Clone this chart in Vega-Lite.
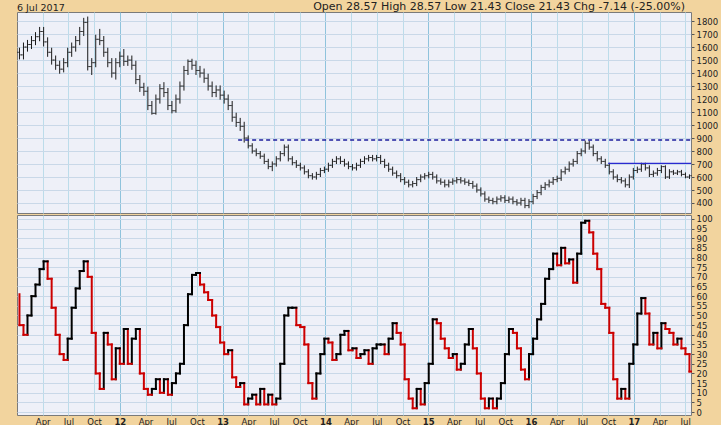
{
"$schema": "https://vega.github.io/schema/vega-lite/v6.json",
"background": "#F2D49E",
"padding": {"left": 16, "top": 0, "right": 2, "bottom": 0},
"spacing": 0,
"config": {
 "view": {"fill": "#EEF0F8", "stroke": "#7a7a7a", "strokeWidth": 1},
 "font": "DejaVu Sans",
 "axis": {"domain": false, "labelFont": "DejaVu Sans", "labelFontSize": 8.5, "labelColor": "#222222", "tickColor": "#555555", "tickSize": 3, "labelPadding": 2, "title": null, "gridWidth": 1, "labelOverlap": false, "labelSeparation": 0, "labelBound": false}
},
"title": {"text": "6 Jul 2017", "anchor": "start", "frame": "group", "fontSize": 9.5, "fontWeight": "normal", "color": "#222222", "offset": -12, "font": "DejaVu Sans"},
"datasets": {
"levels": [{"a": 2013.151, "b": 2017.556, "y": 885, "s": "dash"}, {"a": 2016.751, "b": 2017.556, "y": 705, "s": "solid"}],
"price": [
{"t":2011.024,"o":1560,"c":1540,"l":1505,"h":1595},{"t":2011.063,"o":1540,"c":1600,"l":1505,"h":1635},{"t":2011.102,"o":1600,"c":1620,"l":1565,"h":1655},{"t":2011.141,"o":1620,"c":1650,"l":1585,"h":1685},{"t":2011.180,"o":1650,"c":1680,"l":1615,"h":1715},{"t":2011.220,"o":1680,"c":1720,"l":1645,"h":1755},{"t":2011.259,"o":1720,"c":1640,"l":1605,"h":1755},{"t":2011.298,"o":1640,"c":1560,"l":1525,"h":1675},{"t":2011.337,"o":1560,"c":1500,"l":1465,"h":1595},{"t":2011.376,"o":1500,"c":1460,"l":1425,"h":1535},{"t":2011.415,"o":1460,"c":1430,"l":1395,"h":1495},{"t":2011.454,"o":1430,"c":1480,"l":1405,"h":1515},{"t":2011.493,"o":1480,"c":1560,"l":1445,"h":1595},{"t":2011.532,"o":1560,"c":1600,"l":1525,"h":1635},{"t":2011.571,"o":1600,"c":1650,"l":1565,"h":1685},{"t":2011.610,"o":1650,"c":1720,"l":1615,"h":1755},{"t":2011.649,"o":1720,"c":1790,"l":1685,"h":1825},{"t":2011.688,"o":1790,"c":1450,"l":1420,"h":1835},{"t":2011.727,"o":1450,"c":1480,"l":1385,"h":1515},{"t":2011.766,"o":1480,"c":1660,"l":1445,"h":1695},{"t":2011.805,"o":1660,"c":1650,"l":1615,"h":1740},{"t":2011.844,"o":1650,"c":1560,"l":1525,"h":1685},{"t":2011.883,"o":1560,"c":1480,"l":1445,"h":1595},{"t":2011.922,"o":1480,"c":1400,"l":1365,"h":1515},{"t":2011.961,"o":1400,"c":1480,"l":1350,"h":1515},
{"t":2012.000,"o":1480,"c":1530,"l":1445,"h":1565},{"t":2012.039,"o":1530,"c":1490,"l":1455,"h":1585},{"t":2012.078,"o":1490,"c":1500,"l":1455,"h":1535},{"t":2012.117,"o":1500,"c":1460,"l":1425,"h":1535},{"t":2012.156,"o":1460,"c":1350,"l":1315,"h":1495},{"t":2012.195,"o":1350,"c":1290,"l":1255,"h":1385},{"t":2012.234,"o":1290,"c":1260,"l":1225,"h":1325},{"t":2012.273,"o":1260,"c":1150,"l":1115,"h":1295},{"t":2012.312,"o":1150,"c":1090,"l":1080,"h":1185},{"t":2012.351,"o":1090,"c":1200,"l":1080,"h":1235},{"t":2012.390,"o":1200,"c":1280,"l":1165,"h":1315},{"t":2012.429,"o":1280,"c":1250,"l":1215,"h":1330},{"t":2012.468,"o":1250,"c":1150,"l":1115,"h":1285},{"t":2012.507,"o":1150,"c":1110,"l":1090,"h":1185},{"t":2012.546,"o":1110,"c":1200,"l":1095,"h":1235},{"t":2012.585,"o":1200,"c":1300,"l":1165,"h":1335},{"t":2012.624,"o":1300,"c":1420,"l":1265,"h":1455},{"t":2012.663,"o":1420,"c":1490,"l":1385,"h":1505},{"t":2012.702,"o":1490,"c":1460,"l":1425,"h":1510},{"t":2012.741,"o":1460,"c":1420,"l":1385,"h":1495},{"t":2012.780,"o":1420,"c":1400,"l":1365,"h":1455},{"t":2012.820,"o":1400,"c":1360,"l":1325,"h":1435},{"t":2012.859,"o":1360,"c":1300,"l":1265,"h":1395},{"t":2012.898,"o":1300,"c":1250,"l":1215,"h":1335},{"t":2012.937,"o":1250,"c":1270,"l":1215,"h":1305},{"t":2012.976,"o":1270,"c":1230,"l":1195,"h":1305},
{"t":2013.015,"o":1230,"c":1200,"l":1165,"h":1265},{"t":2013.054,"o":1200,"c":1150,"l":1115,"h":1235},{"t":2013.093,"o":1150,"c":1060,"l":1025,"h":1185},{"t":2013.132,"o":1060,"c":1020,"l":985,"h":1095},{"t":2013.171,"o":1020,"c":990,"l":955,"h":1055},{"t":2013.210,"o":990,"c":900,"l":865,"h":1025},{"t":2013.249,"o":900,"c":840,"l":820,"h":920},{"t":2013.288,"o":840,"c":800,"l":780,"h":860},{"t":2013.327,"o":800,"c":780,"l":760,"h":820},{"t":2013.366,"o":780,"c":760,"l":740,"h":800},{"t":2013.405,"o":760,"c":720,"l":700,"h":780},{"t":2013.444,"o":720,"c":680,"l":660,"h":740},{"t":2013.483,"o":680,"c":700,"l":645,"h":720},{"t":2013.522,"o":700,"c":740,"l":680,"h":760},{"t":2013.561,"o":740,"c":780,"l":720,"h":800},{"t":2013.600,"o":780,"c":830,"l":760,"h":850},{"t":2013.639,"o":830,"c":740,"l":720,"h":850},{"t":2013.678,"o":740,"c":710,"l":690,"h":760},{"t":2013.717,"o":710,"c":690,"l":670,"h":730},{"t":2013.756,"o":690,"c":670,"l":650,"h":710},{"t":2013.795,"o":670,"c":640,"l":620,"h":690},{"t":2013.834,"o":640,"c":610,"l":590,"h":660},{"t":2013.873,"o":610,"c":600,"l":580,"h":630},{"t":2013.912,"o":600,"c":620,"l":580,"h":640},{"t":2013.951,"o":620,"c":650,"l":600,"h":670},{"t":2013.990,"o":650,"c":660,"l":630,"h":680},
{"t":2014.029,"o":660,"c":690,"l":640,"h":710},{"t":2014.068,"o":690,"c":720,"l":670,"h":740},{"t":2014.107,"o":720,"c":740,"l":700,"h":760},{"t":2014.146,"o":740,"c":720,"l":700,"h":760},{"t":2014.185,"o":720,"c":700,"l":680,"h":740},{"t":2014.224,"o":700,"c":680,"l":660,"h":720},{"t":2014.263,"o":680,"c":670,"l":650,"h":700},{"t":2014.302,"o":670,"c":690,"l":650,"h":710},{"t":2014.341,"o":690,"c":720,"l":670,"h":740},{"t":2014.380,"o":720,"c":740,"l":700,"h":760},{"t":2014.420,"o":740,"c":750,"l":720,"h":770},{"t":2014.459,"o":750,"c":740,"l":720,"h":770},{"t":2014.498,"o":740,"c":750,"l":720,"h":770},{"t":2014.537,"o":750,"c":720,"l":700,"h":770},{"t":2014.576,"o":720,"c":690,"l":670,"h":740},{"t":2014.615,"o":690,"c":660,"l":640,"h":710},{"t":2014.654,"o":660,"c":630,"l":610,"h":680},{"t":2014.693,"o":630,"c":610,"l":590,"h":650},{"t":2014.732,"o":610,"c":580,"l":560,"h":630},{"t":2014.771,"o":580,"c":560,"l":540,"h":600},{"t":2014.810,"o":560,"c":540,"l":520,"h":580},{"t":2014.849,"o":540,"c":550,"l":520,"h":570},{"t":2014.888,"o":550,"c":580,"l":530,"h":600},{"t":2014.927,"o":580,"c":600,"l":560,"h":620},{"t":2014.966,"o":600,"c":610,"l":580,"h":630},
{"t":2015.005,"o":610,"c":620,"l":590,"h":640},{"t":2015.044,"o":620,"c":600,"l":580,"h":640},{"t":2015.083,"o":600,"c":570,"l":550,"h":620},{"t":2015.122,"o":570,"c":560,"l":540,"h":590},{"t":2015.161,"o":560,"c":540,"l":520,"h":580},{"t":2015.200,"o":540,"c":560,"l":520,"h":580},{"t":2015.239,"o":560,"c":570,"l":540,"h":590},{"t":2015.278,"o":570,"c":580,"l":550,"h":600},{"t":2015.317,"o":580,"c":570,"l":550,"h":600},{"t":2015.356,"o":570,"c":560,"l":540,"h":590},{"t":2015.395,"o":560,"c":550,"l":530,"h":580},{"t":2015.434,"o":550,"c":530,"l":510,"h":570},{"t":2015.473,"o":530,"c":500,"l":480,"h":550},{"t":2015.512,"o":500,"c":470,"l":450,"h":520},{"t":2015.551,"o":470,"c":430,"l":410,"h":490},{"t":2015.590,"o":430,"c":420,"l":400,"h":450},{"t":2015.629,"o":420,"c":410,"l":390,"h":440},{"t":2015.668,"o":410,"c":430,"l":390,"h":450},{"t":2015.707,"o":430,"c":440,"l":410,"h":460},{"t":2015.746,"o":440,"c":420,"l":400,"h":460},{"t":2015.785,"o":420,"c":430,"l":400,"h":450},{"t":2015.824,"o":430,"c":410,"l":390,"h":450},{"t":2015.863,"o":410,"c":400,"l":380,"h":430},{"t":2015.902,"o":400,"c":420,"l":380,"h":440},{"t":2015.941,"o":420,"c":380,"l":360,"h":440},{"t":2015.980,"o":380,"c":410,"l":360,"h":430},
{"t":2016.020,"o":410,"c":450,"l":390,"h":470},{"t":2016.059,"o":450,"c":480,"l":430,"h":500},{"t":2016.098,"o":480,"c":520,"l":460,"h":540},{"t":2016.137,"o":520,"c":540,"l":500,"h":560},{"t":2016.176,"o":540,"c":560,"l":520,"h":580},{"t":2016.215,"o":560,"c":580,"l":540,"h":600},{"t":2016.254,"o":580,"c":590,"l":560,"h":610},{"t":2016.293,"o":590,"c":640,"l":570,"h":660},{"t":2016.332,"o":640,"c":660,"l":620,"h":680},{"t":2016.371,"o":660,"c":700,"l":640,"h":720},{"t":2016.410,"o":700,"c":720,"l":680,"h":740},{"t":2016.449,"o":720,"c":780,"l":700,"h":800},{"t":2016.488,"o":780,"c":800,"l":760,"h":820},{"t":2016.527,"o":800,"c":860,"l":780,"h":880},{"t":2016.566,"o":860,"c":830,"l":810,"h":880},{"t":2016.605,"o":830,"c":780,"l":760,"h":850},{"t":2016.644,"o":780,"c":740,"l":720,"h":800},{"t":2016.683,"o":740,"c":720,"l":700,"h":760},{"t":2016.722,"o":720,"c":690,"l":670,"h":740},{"t":2016.761,"o":690,"c":640,"l":620,"h":710},{"t":2016.800,"o":640,"c":600,"l":580,"h":660},{"t":2016.839,"o":600,"c":580,"l":560,"h":620},{"t":2016.878,"o":580,"c":570,"l":550,"h":600},{"t":2016.917,"o":570,"c":540,"l":520,"h":590},{"t":2016.956,"o":540,"c":600,"l":515,"h":620},{"t":2016.995,"o":600,"c":650,"l":580,"h":670},
{"t":2017.034,"o":650,"c":660,"l":630,"h":680},{"t":2017.073,"o":660,"c":700,"l":640,"h":710},{"t":2017.112,"o":700,"c":670,"l":650,"h":710},{"t":2017.151,"o":670,"c":620,"l":600,"h":690},{"t":2017.190,"o":620,"c":630,"l":600,"h":650},{"t":2017.229,"o":630,"c":650,"l":610,"h":670},{"t":2017.268,"o":650,"c":680,"l":630,"h":690},{"t":2017.307,"o":680,"c":600,"l":585,"h":690},{"t":2017.346,"o":600,"c":640,"l":585,"h":660},{"t":2017.385,"o":640,"c":630,"l":615,"h":655},{"t":2017.424,"o":630,"c":640,"l":615,"h":655},{"t":2017.463,"o":640,"c":620,"l":605,"h":655},{"t":2017.502,"o":620,"c":600,"l":590,"h":635},{"t":2017.541,"o":600,"c":610,"l":585,"h":620}
],
"osc": [
{"t":2011.024,"n":2011.063,"v":45,"p":61,"c":"d"},{"t":2011.063,"n":2011.102,"v":40,"p":45,"c":"d"},{"t":2011.102,"n":2011.141,"v":50,"p":40,"c":"u"},{"t":2011.141,"n":2011.180,"v":60,"p":50,"c":"u"},{"t":2011.180,"n":2011.220,"v":66,"p":60,"c":"u"},{"t":2011.220,"n":2011.259,"v":74,"p":66,"c":"u"},{"t":2011.259,"n":2011.298,"v":78,"p":74,"c":"u"},{"t":2011.298,"n":2011.337,"v":69,"p":78,"c":"d"},{"t":2011.337,"n":2011.376,"v":54,"p":69,"c":"d"},{"t":2011.376,"n":2011.415,"v":40,"p":54,"c":"d"},{"t":2011.415,"n":2011.454,"v":30,"p":40,"c":"d"},{"t":2011.454,"n":2011.493,"v":27,"p":30,"c":"d"},{"t":2011.493,"n":2011.532,"v":38,"p":27,"c":"u"},{"t":2011.532,"n":2011.571,"v":54,"p":38,"c":"u"},{"t":2011.571,"n":2011.610,"v":64,"p":54,"c":"u"},{"t":2011.610,"n":2011.649,"v":73,"p":64,"c":"u"},{"t":2011.649,"n":2011.688,"v":78,"p":73,"c":"u"},{"t":2011.688,"n":2011.727,"v":70,"p":78,"c":"d"},{"t":2011.727,"n":2011.766,"v":41,"p":70,"c":"d"},{"t":2011.766,"n":2011.805,"v":20,"p":41,"c":"d"},{"t":2011.805,"n":2011.844,"v":12,"p":20,"c":"d"},{"t":2011.844,"n":2011.883,"v":41,"p":12,"c":"u"},{"t":2011.883,"n":2011.922,"v":35,"p":41,"c":"d"},{"t":2011.922,"n":2011.961,"v":17,"p":35,"c":"d"},{"t":2011.961,"n":2012.000,"v":33,"p":17,"c":"u"},
{"t":2012.000,"n":2012.039,"v":25,"p":33,"c":"d"},{"t":2012.039,"n":2012.078,"v":43,"p":25,"c":"u"},{"t":2012.078,"n":2012.117,"v":25,"p":43,"c":"d"},{"t":2012.117,"n":2012.156,"v":38,"p":25,"c":"u"},{"t":2012.156,"n":2012.195,"v":43,"p":38,"c":"u"},{"t":2012.195,"n":2012.234,"v":20,"p":43,"c":"d"},{"t":2012.234,"n":2012.273,"v":12,"p":20,"c":"d"},{"t":2012.273,"n":2012.312,"v":9,"p":12,"c":"d"},{"t":2012.312,"n":2012.351,"v":12,"p":9,"c":"u"},{"t":2012.351,"n":2012.390,"v":17,"p":12,"c":"u"},{"t":2012.390,"n":2012.429,"v":10,"p":17,"c":"d"},{"t":2012.429,"n":2012.468,"v":17,"p":10,"c":"u"},{"t":2012.468,"n":2012.507,"v":9,"p":17,"c":"d"},{"t":2012.507,"n":2012.546,"v":15,"p":9,"c":"u"},{"t":2012.546,"n":2012.585,"v":20,"p":15,"c":"u"},{"t":2012.585,"n":2012.624,"v":25,"p":20,"c":"u"},{"t":2012.624,"n":2012.663,"v":45,"p":25,"c":"u"},{"t":2012.663,"n":2012.702,"v":61,"p":45,"c":"u"},{"t":2012.702,"n":2012.741,"v":71,"p":61,"c":"u"},{"t":2012.741,"n":2012.780,"v":72,"p":71,"c":"u"},{"t":2012.780,"n":2012.820,"v":66,"p":72,"c":"d"},{"t":2012.820,"n":2012.859,"v":62,"p":66,"c":"d"},{"t":2012.859,"n":2012.898,"v":58,"p":62,"c":"d"},{"t":2012.898,"n":2012.937,"v":50,"p":58,"c":"d"},{"t":2012.937,"n":2012.976,"v":44,"p":50,"c":"d"},{"t":2012.976,"n":2013.015,"v":36,"p":44,"c":"d"},
{"t":2013.015,"n":2013.054,"v":30,"p":36,"c":"d"},{"t":2013.054,"n":2013.093,"v":32,"p":30,"c":"u"},{"t":2013.093,"n":2013.132,"v":18,"p":32,"c":"d"},{"t":2013.132,"n":2013.171,"v":13,"p":18,"c":"d"},{"t":2013.171,"n":2013.210,"v":15,"p":13,"c":"u"},{"t":2013.210,"n":2013.249,"v":4,"p":15,"c":"d"},{"t":2013.249,"n":2013.288,"v":7,"p":4,"c":"u"},{"t":2013.288,"n":2013.327,"v":9,"p":7,"c":"u"},{"t":2013.327,"n":2013.366,"v":4,"p":9,"c":"d"},{"t":2013.366,"n":2013.405,"v":12,"p":4,"c":"u"},{"t":2013.405,"n":2013.444,"v":4,"p":12,"c":"d"},{"t":2013.444,"n":2013.483,"v":9,"p":4,"c":"u"},{"t":2013.483,"n":2013.522,"v":4,"p":9,"c":"d"},{"t":2013.522,"n":2013.561,"v":7,"p":4,"c":"u"},{"t":2013.561,"n":2013.600,"v":25,"p":7,"c":"u"},{"t":2013.600,"n":2013.639,"v":50,"p":25,"c":"u"},{"t":2013.639,"n":2013.678,"v":54,"p":50,"c":"u"},{"t":2013.678,"n":2013.717,"v":54,"p":54,"c":"u"},{"t":2013.717,"n":2013.756,"v":45,"p":54,"c":"d"},{"t":2013.756,"n":2013.795,"v":44,"p":45,"c":"d"},{"t":2013.795,"n":2013.834,"v":35,"p":44,"c":"d"},{"t":2013.834,"n":2013.873,"v":15,"p":35,"c":"d"},{"t":2013.873,"n":2013.912,"v":7,"p":15,"c":"d"},{"t":2013.912,"n":2013.951,"v":20,"p":7,"c":"u"},{"t":2013.951,"n":2013.990,"v":30,"p":20,"c":"u"},{"t":2013.990,"n":2014.029,"v":38,"p":30,"c":"u"},
{"t":2014.029,"n":2014.068,"v":36,"p":38,"c":"d"},{"t":2014.068,"n":2014.107,"v":27,"p":36,"c":"d"},{"t":2014.107,"n":2014.146,"v":30,"p":27,"c":"u"},{"t":2014.146,"n":2014.185,"v":40,"p":30,"c":"u"},{"t":2014.185,"n":2014.224,"v":42,"p":40,"c":"u"},{"t":2014.224,"n":2014.263,"v":32,"p":42,"c":"d"},{"t":2014.263,"n":2014.302,"v":33,"p":32,"c":"u"},{"t":2014.302,"n":2014.341,"v":28,"p":33,"c":"d"},{"t":2014.341,"n":2014.380,"v":30,"p":28,"c":"u"},{"t":2014.380,"n":2014.420,"v":32,"p":30,"c":"u"},{"t":2014.420,"n":2014.459,"v":25,"p":32,"c":"d"},{"t":2014.459,"n":2014.498,"v":33,"p":25,"c":"u"},{"t":2014.498,"n":2014.537,"v":35,"p":33,"c":"u"},{"t":2014.537,"n":2014.576,"v":35,"p":35,"c":"u"},{"t":2014.576,"n":2014.615,"v":30,"p":35,"c":"d"},{"t":2014.615,"n":2014.654,"v":38,"p":30,"c":"u"},{"t":2014.654,"n":2014.693,"v":46,"p":38,"c":"u"},{"t":2014.693,"n":2014.732,"v":41,"p":46,"c":"d"},{"t":2014.732,"n":2014.771,"v":35,"p":41,"c":"d"},{"t":2014.771,"n":2014.810,"v":17,"p":35,"c":"d"},{"t":2014.810,"n":2014.849,"v":7,"p":17,"c":"d"},{"t":2014.849,"n":2014.888,"v":2,"p":7,"c":"d"},{"t":2014.888,"n":2014.927,"v":12,"p":2,"c":"u"},{"t":2014.927,"n":2014.966,"v":4,"p":12,"c":"d"},{"t":2014.966,"n":2015.005,"v":15,"p":4,"c":"u"},
{"t":2015.005,"n":2015.044,"v":25,"p":15,"c":"u"},{"t":2015.044,"n":2015.083,"v":48,"p":25,"c":"u"},{"t":2015.083,"n":2015.122,"v":46,"p":48,"c":"d"},{"t":2015.122,"n":2015.161,"v":38,"p":46,"c":"d"},{"t":2015.161,"n":2015.200,"v":33,"p":38,"c":"d"},{"t":2015.200,"n":2015.239,"v":28,"p":33,"c":"d"},{"t":2015.239,"n":2015.278,"v":30,"p":28,"c":"u"},{"t":2015.278,"n":2015.317,"v":22,"p":30,"c":"d"},{"t":2015.317,"n":2015.356,"v":25,"p":22,"c":"u"},{"t":2015.356,"n":2015.395,"v":35,"p":25,"c":"u"},{"t":2015.395,"n":2015.434,"v":43,"p":35,"c":"u"},{"t":2015.434,"n":2015.473,"v":33,"p":43,"c":"d"},{"t":2015.473,"n":2015.512,"v":20,"p":33,"c":"d"},{"t":2015.512,"n":2015.551,"v":7,"p":20,"c":"d"},{"t":2015.551,"n":2015.590,"v":2,"p":7,"c":"d"},{"t":2015.590,"n":2015.629,"v":7,"p":2,"c":"u"},{"t":2015.629,"n":2015.668,"v":2,"p":7,"c":"d"},{"t":2015.668,"n":2015.707,"v":7,"p":2,"c":"u"},{"t":2015.707,"n":2015.746,"v":15,"p":7,"c":"u"},{"t":2015.746,"n":2015.785,"v":30,"p":15,"c":"u"},{"t":2015.785,"n":2015.824,"v":43,"p":30,"c":"u"},{"t":2015.824,"n":2015.863,"v":41,"p":43,"c":"d"},{"t":2015.863,"n":2015.902,"v":33,"p":41,"c":"d"},{"t":2015.902,"n":2015.941,"v":22,"p":33,"c":"d"},{"t":2015.941,"n":2015.980,"v":17,"p":22,"c":"d"},{"t":2015.980,"n":2016.020,"v":30,"p":17,"c":"u"},
{"t":2016.020,"n":2016.059,"v":38,"p":30,"c":"u"},{"t":2016.059,"n":2016.098,"v":48,"p":38,"c":"u"},{"t":2016.098,"n":2016.137,"v":56,"p":48,"c":"u"},{"t":2016.137,"n":2016.176,"v":69,"p":56,"c":"u"},{"t":2016.176,"n":2016.215,"v":74,"p":69,"c":"u"},{"t":2016.215,"n":2016.254,"v":82,"p":74,"c":"u"},{"t":2016.254,"n":2016.293,"v":76,"p":82,"c":"d"},{"t":2016.293,"n":2016.332,"v":85,"p":76,"c":"u"},{"t":2016.332,"n":2016.371,"v":77,"p":85,"c":"d"},{"t":2016.371,"n":2016.410,"v":79,"p":77,"c":"u"},{"t":2016.410,"n":2016.449,"v":67,"p":79,"c":"d"},{"t":2016.449,"n":2016.488,"v":82,"p":67,"c":"u"},{"t":2016.488,"n":2016.527,"v":98,"p":82,"c":"u"},{"t":2016.527,"n":2016.566,"v":99,"p":98,"c":"u"},{"t":2016.566,"n":2016.605,"v":93,"p":99,"c":"d"},{"t":2016.605,"n":2016.644,"v":82,"p":93,"c":"d"},{"t":2016.644,"n":2016.683,"v":74,"p":82,"c":"d"},{"t":2016.683,"n":2016.722,"v":56,"p":74,"c":"d"},{"t":2016.722,"n":2016.761,"v":54,"p":56,"c":"d"},{"t":2016.761,"n":2016.800,"v":41,"p":54,"c":"d"},{"t":2016.800,"n":2016.839,"v":17,"p":41,"c":"d"},{"t":2016.839,"n":2016.878,"v":7,"p":17,"c":"d"},{"t":2016.878,"n":2016.917,"v":12,"p":7,"c":"u"},{"t":2016.917,"n":2016.956,"v":7,"p":12,"c":"d"},{"t":2016.956,"n":2016.995,"v":25,"p":7,"c":"u"},{"t":2016.995,"n":2017.034,"v":35,"p":25,"c":"u"},
{"t":2017.034,"n":2017.073,"v":51,"p":35,"c":"u"},{"t":2017.073,"n":2017.112,"v":59,"p":51,"c":"u"},{"t":2017.112,"n":2017.151,"v":51,"p":59,"c":"d"},{"t":2017.151,"n":2017.190,"v":35,"p":51,"c":"d"},{"t":2017.190,"n":2017.229,"v":41,"p":35,"c":"u"},{"t":2017.229,"n":2017.268,"v":33,"p":41,"c":"d"},{"t":2017.268,"n":2017.307,"v":46,"p":33,"c":"u"},{"t":2017.307,"n":2017.346,"v":43,"p":46,"c":"d"},{"t":2017.346,"n":2017.385,"v":41,"p":43,"c":"d"},{"t":2017.385,"n":2017.424,"v":35,"p":41,"c":"d"},{"t":2017.424,"n":2017.463,"v":38,"p":35,"c":"u"},{"t":2017.463,"n":2017.502,"v":33,"p":38,"c":"d"},{"t":2017.502,"n":2017.541,"v":30,"p":33,"c":"d"},{"t":2017.541,"n":2017.556,"v":21,"p":30,"c":"d"}
]
},
"vconcat": [
{
 "width": 674, "height": 201,
 "title": {"text": "Open 28.57  High 28.57  Low 21.43  Close 21.43  Chg -7.14 (-25.00%)", "anchor": "end", "frame": "group", "fontSize": 11, "fontWeight": "normal", "color": "#222222", "offset": 0, "font": "DejaVu Sans", "dx": -6},
 "layer": [
  {"data": {"name": "price"}, "mark": {"type": "rule", "color": "#1a1a1a", "strokeWidth": 1},
   "encoding": {
    "x": {"field": "t", "type": "quantitative", "scale": {"domain": [2011, 2017.556], "nice": false, "zero": false},
     "axis": {"values": [2011.25,2011.5,2011.75,2012,2012.25,2012.5,2012.75,2013,2013.25,2013.5,2013.75,2014,2014.25,2014.5,2014.75,2015,2015.25,2015.5,2015.75,2016,2016.25,2016.5,2016.75,2017,2017.25,2017.5], "tickCount": 200, "labels": false, "ticks": false, "grid": true,
      "gridColor": {"condition": {"test": "datum.value % 1 == 0", "value": "#8fc3dc"}, "value": "#bcdcea"}}},
    "y": {"field": "l", "type": "quantitative", "scale": {"domain": [323, 1870], "nice": false, "zero": false},
     "axis": {"orient": "right", "format": "d", "tickCount": 200, "values": [400,500,600,700,800,900,1000,1100,1200,1300,1400,1500,1600,1700,1800], "grid": true, "gridColor": "#c9d8e8"}},
    "y2": {"field": "h"}
   }},
  {"data": {"name": "price"}, "mark": {"type": "tick", "color": "#1a1a1a", "thickness": 1, "size": 2.5, "orient": "horizontal", "xOffset": -1.2},
   "encoding": {"x": {"field": "t", "type": "quantitative"}, "y": {"field": "o", "type": "quantitative"}}},
  {"data": {"name": "price"}, "mark": {"type": "tick", "color": "#1a1a1a", "thickness": 1, "size": 2.5, "orient": "horizontal", "xOffset": 1.2},
   "encoding": {"x": {"field": "t", "type": "quantitative"}, "y": {"field": "c", "type": "quantitative"}}},
  {"data": {"name": "levels"}, "transform": [{"filter": "datum.s == 'dash'"}], "mark": {"type": "rule", "color": "#1c1c9c", "strokeWidth": 1.5, "strokeDash": [4, 3]},
   "encoding": {"x": {"field": "a", "type": "quantitative"}, "x2": {"field": "b"}, "y": {"field": "y", "type": "quantitative"}}},
  {"data": {"name": "levels"}, "transform": [{"filter": "datum.s == 'solid'"}], "mark": {"type": "rule", "color": "#2a2ad0", "strokeWidth": 1.3},
   "encoding": {"x": {"field": "a", "type": "quantitative"}, "x2": {"field": "b"}, "y": {"field": "y", "type": "quantitative"}}}
 ]
},
{
 "width": 674, "height": 200,
 "layer": [
  {"data": {"name": "osc"}, "mark": {"type": "rule", "strokeWidth": 2, "strokeCap": "square"},
   "encoding": {
    "x": {"field": "t", "type": "quantitative", "scale": {"domain": [2011, 2017.556], "nice": false, "zero": false},
     "axis": {"values": [2011.25,2011.5,2011.75,2012,2012.25,2012.5,2012.75,2013,2013.25,2013.5,2013.75,2014,2014.25,2014.5,2014.75,2015,2015.25,2015.5,2015.75,2016,2016.25,2016.5,2016.75,2017,2017.25,2017.5], "tickCount": 200, "ticks": false, "grid": true,
      "labelExpr": "datum.value % 1 == 0 ? substring(toString(datum.value), 2, 4) : (datum.value % 1 == 0.25 ? 'Apr' : (datum.value % 1 == 0.5 ? 'Jul' : 'Oct'))",
      "labelFontWeight": {"condition": {"test": "datum.value % 1 == 0", "value": "bold"}, "value": "normal"},
      "labelFlush": false,
      "gridColor": {"condition": {"test": "datum.value % 1 == 0", "value": "#8fc3dc"}, "value": "#bcdcea"}}},
    "y": {"field": "p", "type": "quantitative", "scale": {"domain": [-1.5, 102], "nice": false, "zero": false},
     "axis": {"orient": "right", "format": "d", "tickCount": 200, "values": [0,5,10,15,20,25,30,35,40,45,50,55,60,65,70,75,80,85,90,95,100], "grid": true, "gridColor": "#c9d8e8"}},
    "y2": {"field": "v"},
    "color": {"field": "c", "type": "nominal", "scale": {"domain": ["u", "d"], "range": ["#000000", "#cc0000"]}, "legend": null}
   }},
  {"data": {"name": "osc"}, "mark": {"type": "rule", "strokeWidth": 2, "strokeCap": "square"},
   "encoding": {
    "x": {"field": "t", "type": "quantitative"},
    "x2": {"field": "n"},
    "y": {"field": "v", "type": "quantitative"},
    "color": {"field": "c", "type": "nominal", "scale": {"domain": ["u", "d"], "range": ["#000000", "#cc0000"]}, "legend": null}
   }}
 ]
}
]
}
